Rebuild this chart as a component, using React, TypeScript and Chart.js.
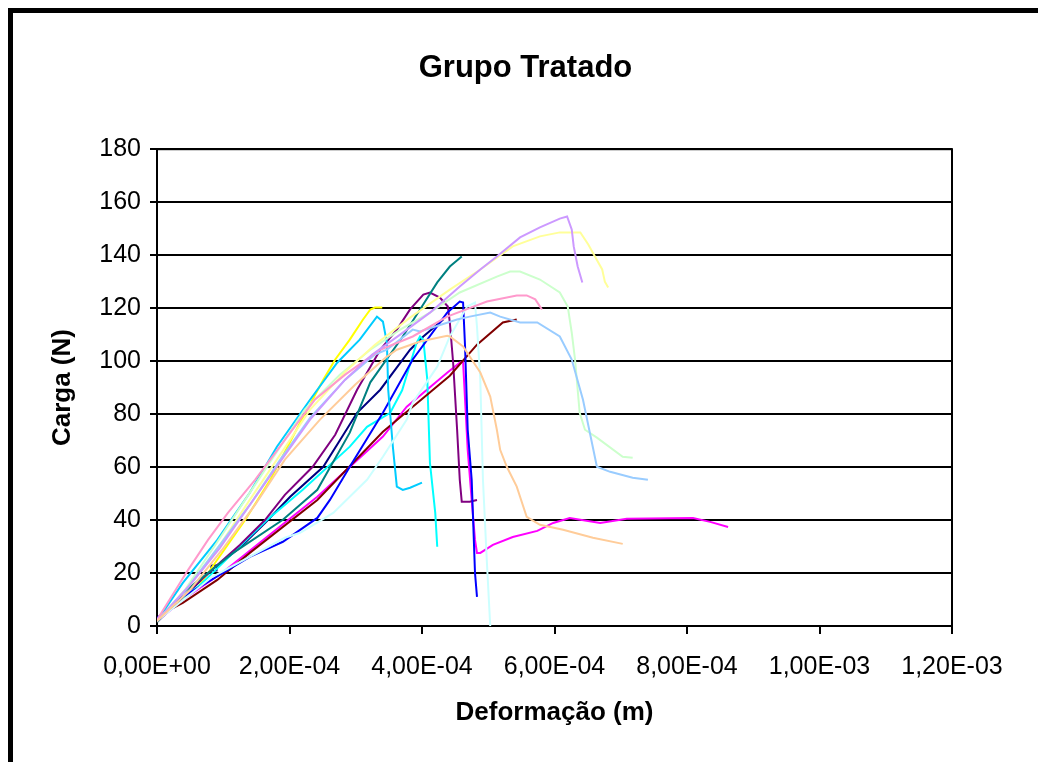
import React, { useEffect, useRef } from "react";
import { Chart, registerables } from "chart.js";
Chart.register(...registerables);

// Deformação (m) and Carga (N) for each specimen curve
const cp1X = [0, 0.27e-4, 0.86e-4, 1.25e-4, 1.63e-4, 2.01e-4, 2.51e-4, 3.02e-4, 3.37e-4, 3.82e-4, 4.02e-4, 4.32e-4];
const cp1Y = [1.5, 7.9, 21.9, 29.5, 38.9, 48.8, 60.1, 80.5, 89.2, 104.3, 109.3, 115.7];

const cp2X = [0, 0.45e-4, 0.98e-4, 1.55e-4, 2.42e-4, 3.41e-4, 3.77e-4, 4.38e-4, 4.57e-4, 4.62e-4, 4.65e-4, 4.69e-4, 4.75e-4, 4.8e-4, 4.83e-4, 4.88e-4, 5.07e-4, 5.37e-4, 5.74e-4, 5.98e-4, 6.23e-4, 6.69e-4, 7.09e-4, 8.09e-4, 8.35e-4, 8.62e-4];
const cp2Y = [1.9, 11, 20, 31.4, 48.8, 71.5, 82.8, 95.6, 99.4, 99.8, 85.4, 66.5, 47.6, 32.5, 27.6, 27.6, 30.6, 33.6, 35.9, 38.9, 40.8, 38.9, 40.5, 40.8, 39.3, 37.4];

const cp3X = [0, 0.09e-4, 0.62e-4, 0.77e-4, 1.33e-4, 1.71e-4, 2.16e-4, 2.51e-4, 2.69e-4, 2.91e-4, 3.11e-4, 3.22e-4, 3.29e-4, 3.4e-4];
const cp3Y = [1.5, 4.9, 14.7, 20, 40, 55.2, 76.7, 93, 100.6, 108.1, 115.7, 119.5, 120.2, 120.2];

const cp4X = [0, 0.08e-4, 0.65e-4, 1.15e-4, 1.66e-4, 2.2e-4, 2.91e-4, 3.17e-4, 3.52e-4, 3.7e-4, 3.92e-4, 3.97e-4, 4.02e-4, 4.08e-4, 4.12e-4, 4.2e-4, 4.23e-4];
const cp4Y = [1.9, 4.9, 15.5, 27.6, 40, 51.4, 67.7, 75.2, 80.5, 89, 107, 109.3, 108.1, 93, 61.6, 42.7, 29.9];

const cp5X = [0, 0.47e-4, 0.86e-4, 1.25e-4, 1.63e-4, 1.93e-4, 2.35e-4, 2.69e-4, 3.02e-4, 3.37e-4, 3.62e-4, 3.82e-4, 4.02e-4, 4.12e-4, 4.27e-4, 4.39e-4, 4.42e-4, 4.47e-4, 4.53e-4, 4.57e-4, 4.6e-4, 4.72e-4, 4.83e-4];
const cp5Y = [1.9, 12.9, 21.9, 30.6, 40, 49.5, 60.1, 72.2, 89.2, 104.3, 111.9, 119.5, 125.1, 125.9, 124, 120.6, 114.6, 99.4, 74.1, 55.2, 46.9, 46.9, 47.6];

const cp6X = [0, 0.09e-4, 0.39e-4, 0.91e-4, 1.4e-4, 2.42e-4, 3.41e-4, 3.77e-4, 4.42e-4, 4.83e-4, 5.22e-4, 5.43e-4];
const cp6Y = [1.5, 4.9, 8.7, 17.4, 27.6, 47.6, 73.3, 80.9, 94.5, 106.2, 114.6, 115.7];

const cp7X = [0, 0.39e-4, 1.15e-4, 1.9e-4, 2.42e-4, 2.91e-4, 3.22e-4, 3.71e-4, 3.97e-4, 4.23e-4, 4.42e-4, 4.6e-4];
const cp7Y = [1.5, 12.5, 27.6, 40.1, 51.4, 73, 92, 109.3, 119.5, 129.7, 135.7, 139.5];

const cp8X = [0, 0.39e-4, 1.4e-4, 1.9e-4, 2.42e-4, 2.61e-4, 2.91e-4, 3.41e-4, 3.86e-4, 4.38e-4, 4.57e-4, 4.62e-4, 4.65e-4, 4.69e-4, 4.75e-4, 4.8e-4, 4.83e-4];
const cp8Y = [3, 11, 26.1, 31.8, 40.8, 47.6, 60.1, 80.5, 100.6, 118.3, 122.5, 122.1, 105.5, 74.1, 55.2, 20, 11];

const cp9X = [0, 0.39e-4, 0.91e-4, 1.4e-4, 1.81e-4, 2.31e-4, 2.72e-4, 3.06e-4, 3.32e-4, 3.41e-4, 3.47e-4, 3.49e-4, 3.56e-4, 3.62e-4, 3.71e-4, 3.82e-4, 4.0e-4];
const cp9Y = [1.9, 16.3, 32.5, 50.3, 67.7, 85.4, 99.4, 108.1, 116.8, 114.9, 107, 89.2, 67.7, 52.6, 51.4, 52.2, 54.1];

const cp10X = [0, 0.83e-4, 1.93e-4, 2.16e-4, 2.66e-4, 3.17e-4, 3.41e-4, 3.77e-4, 3.86e-4, 4.23e-4, 4.42e-4, 4.68e-4, 4.8e-4, 4.83e-4, 4.88e-4, 4.92e-4, 4.98e-4, 5.03e-4];
const cp10Y = [1.9, 18.5, 33.3, 35.2, 42.7, 55.2, 63.9, 77.9, 84.3, 97.9, 109.3, 120.6, 122.1, 113, 93, 55.2, 23.8, 0];

const cp11X = [0, 0.42e-4, 0.88e-4, 1.33e-4, 1.78e-4, 2.23e-4, 2.76e-4, 3.22e-4, 3.67e-4, 4.12e-4, 4.57e-4, 5.13e-4, 5.33e-4, 5.48e-4, 5.78e-4, 6.08e-4, 6.2e-4, 6.26e-4, 6.31e-4, 6.38e-4, 6.46e-4, 6.64e-4, 7.03e-4, 7.18e-4];
const cp11Y = [1.9, 13.6, 30.6, 47.6, 64.7, 81.7, 94.9, 104.3, 111.9, 118.3, 125.9, 131.9, 133.8, 133.8, 130.8, 125.9, 120.6, 110.8, 100.6, 80.5, 74.1, 71.1, 63.9, 63.5];

const cp12X = [0, 0.5e-4, 0.95e-4, 1.4e-4, 1.86e-4, 2.31e-4, 2.84e-4, 3.29e-4, 3.82e-4, 4.42e-4, 4.88e-4, 5.37e-4, 5.78e-4, 6.08e-4, 6.39e-4, 6.51e-4, 6.61e-4, 6.72e-4, 6.76e-4, 6.81e-4];
const cp12Y = [1.9, 15.5, 30.6, 47.6, 64.7, 81.7, 96, 106.2, 116.4, 127, 134.6, 143.3, 147.1, 148.6, 148.6, 144, 139.5, 134.6, 130, 127.8];

const cp13X = [0, 0.47e-4, 0.95e-4, 1.4e-4, 1.86e-4, 2.31e-4, 2.84e-4, 3.29e-4, 3.47e-4, 3.86e-4, 3.97e-4, 4.53e-4, 4.72e-4, 5.03e-4, 5.18e-4, 5.48e-4, 5.74e-4, 6.08e-4, 6.26e-4, 6.43e-4, 6.64e-4, 6.84e-4, 7.18e-4, 7.41e-4];
const cp13Y = [1.9, 14.7, 30.6, 45.7, 62.8, 78.6, 93, 102.5, 104.3, 111.9, 111.2, 115.7, 116.8, 118.3, 116.8, 114.6, 114.6, 109.3, 100.6, 85.4, 60.1, 58.2, 56, 55.2];

const cp14X = [0, 0.47e-4, 0.77e-4, 1.07e-4, 1.48e-4, 1.93e-4, 2.38e-4, 2.84e-4, 3.37e-4, 3.86e-4, 4.38e-4, 4.98e-4, 5.43e-4, 5.58e-4, 5.71e-4, 5.81e-4];
const cp14Y = [2.3, 21.2, 32.5, 42.7, 55.2, 70.3, 85.4, 94.9, 104.3, 109.3, 116.8, 122.5, 124.8, 124.8, 123.3, 119.5];

const cp15X = [0, 0.5e-4, 0.95e-4, 1.4e-4, 1.86e-4, 2.31e-4, 2.84e-4, 3.25e-4, 3.67e-4, 4.12e-4, 4.57e-4, 4.88e-4, 5.13e-4, 5.48e-4, 5.78e-4, 6.08e-4, 6.19e-4, 6.26e-4, 6.29e-4, 6.35e-4, 6.42e-4];
const cp15Y = [1.9, 15.5, 29.5, 45.7, 62, 77.9, 93, 102.5, 110, 118.3, 128.2, 134.6, 139.5, 146.7, 150.5, 153.8, 154.6, 149.7, 143.3, 135.7, 129.7];

const cp16X = [0, 0.5e-4, 0.98e-4, 1.48e-4, 1.93e-4, 2.46e-4, 2.99e-4, 3.47e-4, 3.62e-4, 3.97e-4, 4.38e-4, 4.42e-4, 4.62e-4, 4.88e-4, 5.03e-4, 5.13e-4, 5.18e-4, 5.28e-4, 5.43e-4, 5.58e-4, 5.78e-4, 6.13e-4, 6.58e-4, 7.03e-4];
const cp16Y = [1.9, 13.6, 28.7, 45.7, 62.8, 77.9, 91.1, 101.7, 104.3, 107.4, 109.6, 109.3, 105.5, 95.7, 86.6, 74.1, 66.5, 60.1, 52.6, 41.2, 38.2, 36.3, 33.3, 31];

const seriesX = [cp1X, cp2X, cp3X, cp4X, cp5X, cp6X, cp7X, cp8X, cp9X, cp10X, cp11X, cp12X, cp13X, cp14X, cp15X, cp16X];
const seriesY = [cp1Y, cp2Y, cp3Y, cp4Y, cp5Y, cp6Y, cp7Y, cp8Y, cp9Y, cp10Y, cp11Y, cp12Y, cp13Y, cp14Y, cp15Y, cp16Y];
const seriesColors = [
  "#000080", "#FF00FF", "#FFFF00", "#00FFFF", "#800080", "#800000", "#008080", "#0000FF",
  "#00CCFF", "#CCFFFF", "#CCFFCC", "#FFFF99", "#99CCFF", "#FF99CC", "#CC99FF", "#FFCC99",
];
const markerIndex = 2; // single square marker on the first series

const xMin = 0;
const xMax = 1.2e-3;
const xStep = 2e-4;
const yMin = 0;
const yMax = 180;
const yStep = 20;

const FONT = "'Liberation Sans', Arial, Helvetica, sans-serif";

function fmtSci(v: number): string {
  if (Math.abs(v) < 1e-12) return "0,00E+00";
  const s = v.toExponential(2);
  const [m, e] = s.split("e");
  const ei = parseInt(e, 10);
  const sign = ei < 0 ? "-" : "+";
  return m.replace(".", ",") + "E" + sign + String(Math.abs(ei)).padStart(2, "0");
}

const plotBorder = {
  id: "plotBorder",
  beforeDatasetsDraw(chart: any) {
    const { ctx, chartArea: a } = chart;
    ctx.save();
    ctx.strokeStyle = "#000";
    ctx.lineWidth = 2;
    ctx.strokeRect(a.left, a.top, a.right - a.left, a.bottom - a.top);
    ctx.restore();
  },
};

export default function App() {
  const ref = useRef<HTMLCanvasElement | null>(null);

  useEffect(() => {
    document.body.style.overflow = "hidden";
    if (!ref.current) return;
    Chart.defaults.font.family = FONT;
    Chart.defaults.color = "#000";
    const n = seriesX.length;
    const datasets = seriesX.map((xs, i) => ({
      data: xs.map((x, j) => ({ x, y: seriesY[i][j] })),
      borderColor: seriesColors[i],
      backgroundColor: seriesColors[i],
      borderWidth: 2,
      showLine: true,
      fill: false,
      tension: 0,
      order: n - i,
      pointRadius: i === 0 ? (c: any) => (c.dataIndex === markerIndex ? 4 : 0) : 0,
      pointStyle: "rect",
      pointBorderColor: seriesColors[i],
      pointBackgroundColor: "rgba(0,0,0,0)",
      pointBorderWidth: 1.5,
      pointHoverRadius: 0,
    }));
    const chart = new Chart(ref.current, {
      type: "scatter",
      data: { datasets },
      plugins: [plotBorder],
      options: {
        animation: false,
        responsive: false,
        devicePixelRatio: 1,
        events: [],
        layout: { padding: { left: 0, right: 0, top: 0, bottom: 0 } },
        plugins: {
          legend: { display: false },
          tooltip: { enabled: false },
          title: {
            display: true,
            text: "Grupo Tratado",
            color: "#000",
            font: { family: FONT, size: 31, weight: "bold" },
            padding: { top: 37, bottom: 62 },
          },
        },
        scales: {
          x: {
            type: "linear",
            min: xMin,
            max: xMax,
            ticks: {
              stepSize: xStep,
              callback: (v: any) => fmtSci(Number(v)),
              color: "#000",
              font: { family: FONT, size: 25 },
              padding: 18,
              maxRotation: 0,
              autoSkip: false,
            },
            grid: { drawOnChartArea: false, drawTicks: true, tickLength: 8, color: "#000", lineWidth: 2 },
            border: { color: "#000", width: 2 },
            title: {
              display: true,
              text: "Deformação (m)",
              color: "#000",
              font: { family: FONT, size: 26, weight: "bold" },
              padding: { top: 0, bottom: 34 },
            },
            afterFit: (s: any) => {
              s.height = 136;
            },
          },
          y: {
            type: "linear",
            min: yMin,
            max: yMax,
            ticks: {
              stepSize: yStep,
              color: "#000",
              font: { family: FONT, size: 25 },
              padding: 9,
            },
            grid: { color: "#000", lineWidth: 2, tickLength: 7 },
            border: { color: "#000", width: 2 },
            title: {
              display: true,
              text: "Carga (N)",
              color: "#000",
              font: { family: FONT, size: 26, weight: "bold" },
              padding: { top: 34, bottom: 0 },
            },
            afterFit: (s: any) => {
              s.width = 144;
            },
          },
          rightSpace: {
            type: "linear",
            position: "right",
            display: true,
            grid: { display: false, drawTicks: false },
            border: { display: false },
            ticks: { display: false },
            afterFit: (s: any) => {
              s.width = 86;
            },
          },
        },
      } as any,
    });
    return () => chart.destroy();
  }, []);

  return (
    <div
      style={{
        position: "fixed",
        left: 8,
        top: 8,
        width: 1030,
        height: 754,
        boxSizing: "border-box",
        borderLeft: "5px solid #000",
        borderTop: "5px solid #000",
        overflow: "hidden",
        background: "#fff",
      }}
    >
      <canvas ref={ref} width={1025} height={749} style={{ display: "block", width: 1025, height: 749 }} />
    </div>
  );
}
